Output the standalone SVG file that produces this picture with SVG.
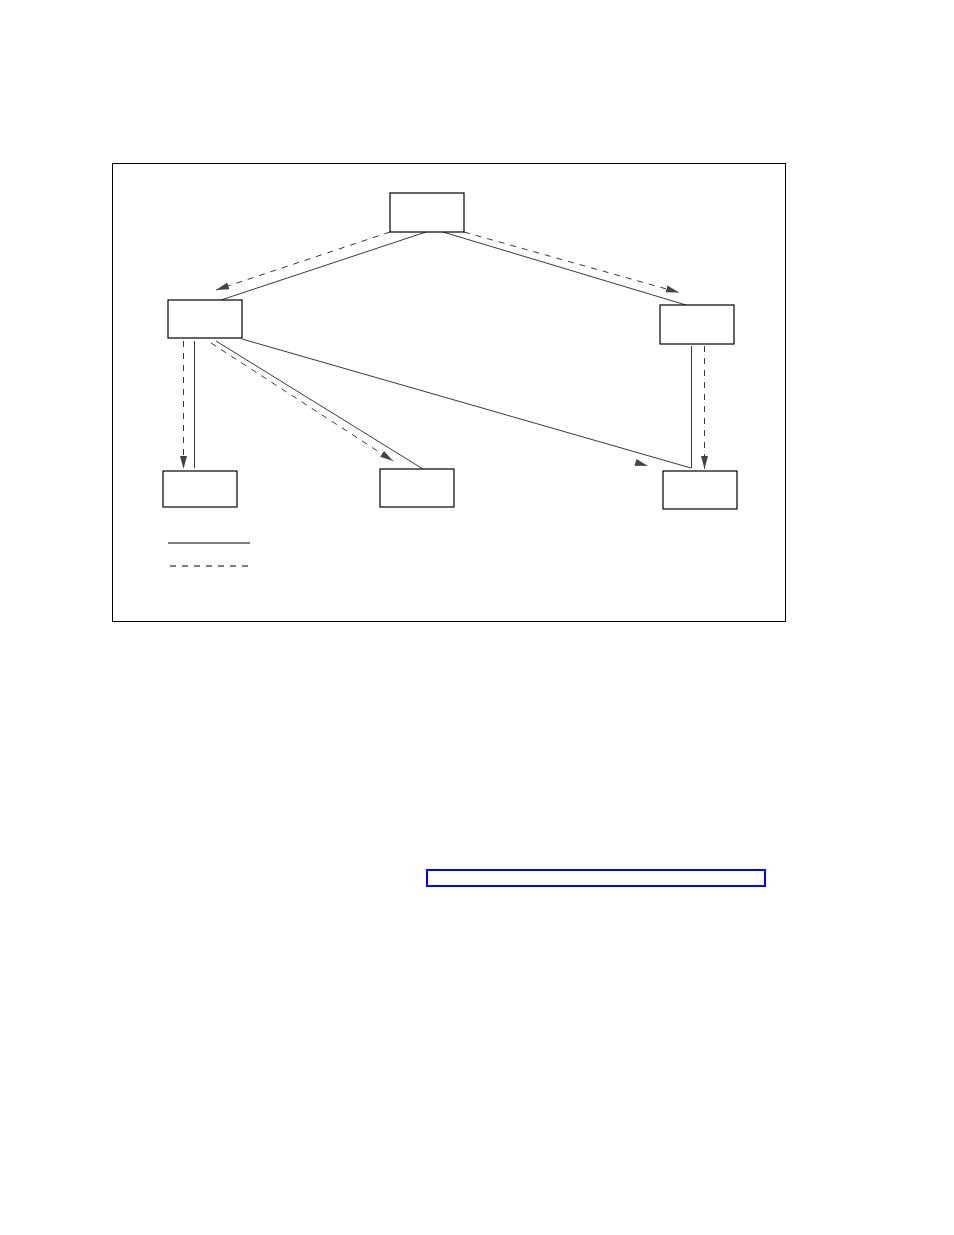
<svg xmlns="http://www.w3.org/2000/svg" width="954" height="1235" viewBox="0 0 954 1235">
<style>
.box{fill:#fff;stroke:#000;stroke-width:1.2}
.s{fill:none;stroke:#222;stroke-width:0.9}
.d{fill:none;stroke:#222;stroke-width:0.9;stroke-dasharray:6,6}
.ah{fill:#444;stroke:none}
</style>
<defs>
<marker id="arr" markerUnits="userSpaceOnUse" markerWidth="14" markerHeight="8" refX="13" refY="4" orient="auto">
<path d="M0,0.5 L13,4 L0,7.5 Z" class="ah"/>
</marker>
</defs>
<rect x="0" y="0" width="954" height="1235" fill="#fff"/>
<rect id="frame" x="112.5" y="163.5" width="673" height="458" fill="none" stroke="#000" stroke-width="1"/>
<g id="connectors">
<line class="s" x1="426" y1="232" x2="221" y2="300"/>
<line class="d" x1="390" y1="232" x2="216" y2="290" marker-end="url(#arr)"/>
<line class="s" x1="443" y1="232" x2="686" y2="305"/>
<line class="d" x1="464" y1="232" x2="679" y2="292.5" marker-end="url(#arr)"/>
<line class="d" x1="183.5" y1="341" x2="183.5" y2="469" marker-end="url(#arr)"/>
<line class="s" x1="194.5" y1="341" x2="194.5" y2="468"/>
<line class="d" x1="211" y1="343" x2="393" y2="461" marker-end="url(#arr)"/>
<line class="s" x1="216" y1="341" x2="423" y2="469"/>
<line class="s" x1="242" y1="339" x2="691" y2="468"/>
<polygon class="ah" points="648,466 634.5,465.8 636.5,459"/>
<line class="s" x1="691.5" y1="346" x2="691.5" y2="468"/>
<line class="d" x1="704.5" y1="346" x2="704.5" y2="469" marker-end="url(#arr)"/>
</g>
<g id="node-top"><rect class="box" x="390" y="193" width="74" height="39"/></g>
<g id="node-left"><rect class="box" x="168" y="300" width="74" height="38"/></g>
<g id="node-right"><rect class="box" x="660" y="305" width="74" height="39"/></g>
<g id="node-bl"><rect class="box" x="163" y="471" width="74" height="36"/></g>
<g id="node-bm"><rect class="box" x="380" y="469" width="74" height="38"/></g>
<g id="node-br"><rect class="box" x="663" y="471" width="74" height="38"/></g>
<g id="legend">
<line x1="168" y1="543" x2="250" y2="543" stroke="#000" stroke-width="1"/>
<line x1="170" y1="566" x2="253" y2="566" stroke="#000" stroke-width="1" stroke-dasharray="6,6"/>
</g>
<rect id="link" x="427" y="870" width="338" height="16" fill="none" stroke="#0000ff" stroke-width="2"/>
</svg>
